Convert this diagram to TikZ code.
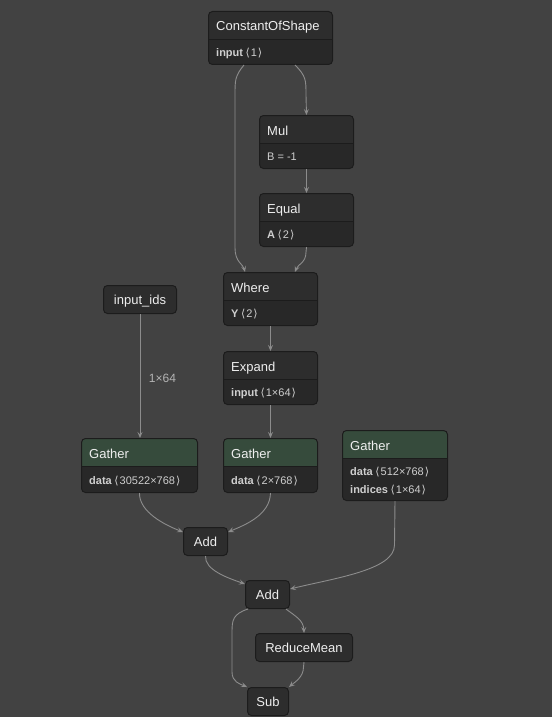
\documentclass[tikz,border=0pt]{standalone}
\usepackage{fontspec}
\setmainfont{Liberation Sans}
\newfontfamily\symfont{DejaVu Sans}
\usetikzlibrary{arrows.meta}

\definecolor{canvas}{HTML}{424242}
\definecolor{nodefill}{HTML}{2D2D2D}
\definecolor{attrfill}{HTML}{282828}
\definecolor{nodeline}{HTML}{1C1C1C}
\definecolor{gathergreen}{HTML}{364B3C}
\definecolor{wirecol}{HTML}{8C8C8C}
\definecolor{titletext}{HTML}{EEEEEE}
\definecolor{attrtext}{HTML}{CFCFCF}
\definecolor{labeltext}{HTML}{B4B4B4}

\newcommand{\shp}[1]{\hspace{2.5pt}{\symfont\char"27E8}\hspace{1pt}#1\hspace{1pt}{\symfont\char"27E9}}

\tikzset{
  opbox/.style={draw=nodeline, fill=attrfill, line width=1pt, rounded corners=4pt,
    inner sep=0pt, anchor=north west,
    path picture={\fill[#1, sharp corners] (path picture bounding box.north west) rectangle ([yshift=-28pt]path picture bounding box.north east);
      \draw[nodeline, line width=1pt, sharp corners] ([yshift=-28pt]path picture bounding box.north west) -- ([yshift=-28pt]path picture bounding box.north east);}},
  opbox/.default=nodefill,
  plainbox/.style={draw=nodeline, fill=nodefill, line width=1pt, rounded corners=4pt,
    inner sep=0pt, minimum height=28pt, text height=9.5pt, text depth=0pt,
    text=titletext, font=\fontsize{13}{15}\selectfont, anchor=north west},
  title/.style={anchor=base west, inner sep=0pt, text=titletext, font=\fontsize{13}{15}\selectfont},
  attr/.style={anchor=base west, inner sep=0pt, text=attrtext, font=\fontsize{11}{13}\selectfont},
  edgelabel/.style={inner sep=0pt, text=labeltext, font=\fontsize{12}{14}\selectfont},
  wire/.style={draw=wirecol, line width=0.9pt, -{Stealth[length=6pt,width=5pt,inset=2.5pt]}},
}

\begin{document}
\begin{tikzpicture}[x=1pt,y=-1pt]
\fill[canvas] (0,0) rectangle (552,717);
\useasboundingbox (0,0) rectangle (552,717);

% operator nodes
\node[opbox, minimum width=124pt, minimum height=53pt] (cos) at (208,11) {};
\node[title] at ([shift={(8pt,-20pt)}]cos.north west) {ConstantOfShape};
\node[attr] at ([shift={(8pt,-45.5pt)}]cos.north west) {\textbf{input}\shp{1}};

\node[opbox, minimum width=94pt, minimum height=53pt] (mul) at (259,115) {};
\node[title] at ([shift={(8pt,-20pt)}]mul.north west) {Mul};
\node[attr] at ([shift={(8pt,-45.5pt)}]mul.north west) {B = -1};

\node[opbox, minimum width=94pt, minimum height=53pt] (equal) at (259,193) {};
\node[title] at ([shift={(8pt,-20pt)}]equal.north west) {Equal};
\node[attr] at ([shift={(8pt,-45.5pt)}]equal.north west) {\textbf{A}\shp{2}};

\node[opbox, minimum width=94pt, minimum height=53pt] (where) at (223,272) {};
\node[title] at ([shift={(8pt,-20pt)}]where.north west) {Where};
\node[attr] at ([shift={(8pt,-45.5pt)}]where.north west) {\textbf{Y}\shp{2}};

\node[plainbox, minimum width=73pt] (ids) at (103,285) {input\_ids};

\node[opbox, minimum width=94pt, minimum height=53pt] (expand) at (223,351) {};
\node[title] at ([shift={(8pt,-20pt)}]expand.north west) {Expand};
\node[attr] at ([shift={(8pt,-45.5pt)}]expand.north west) {\textbf{input}\shp{1×64}};

\node[opbox=gathergreen, minimum width=116pt, minimum height=54pt] (gather1) at (81,438) {};
\node[title] at ([shift={(8pt,-20pt)}]gather1.north west) {Gather};
\node[attr] at ([shift={(8pt,-46pt)}]gather1.north west) {\textbf{data}\shp{30522×768}};

\node[opbox=gathergreen, minimum width=94pt, minimum height=54pt] (gather2) at (223,438) {};
\node[title] at ([shift={(8pt,-20pt)}]gather2.north west) {Gather};
\node[attr] at ([shift={(8pt,-46pt)}]gather2.north west) {\textbf{data}\shp{2×768}};

\node[opbox=gathergreen, minimum width=105pt, minimum height=70pt] (gather3) at (342,430) {};
\node[title] at ([shift={(8pt,-20pt)}]gather3.north west) {Gather};
\node[attr] at ([shift={(8pt,-45pt)}]gather3.north west) {\textbf{data}\shp{512×768}};
\node[attr] at ([shift={(8pt,-63pt)}]gather3.north west) {\textbf{indices}\shp{1×64}};

\node[plainbox, minimum width=44pt] (add1) at (183,527) {Add};
\node[plainbox, minimum width=44pt] (add2) at (245,580) {Add};
\node[plainbox, minimum width=97pt] (rmean) at (255,633) {ReduceMean};
\node[plainbox, minimum width=41pt] (sub) at (247,687) {Sub};

% connectors
\draw[wire] (cos.south -| 295,0) .. controls (306,76) and (306,80) .. (306,95) -- (mul.north);
\draw[wire] (cos.south -| 244,0) .. controls (235,76) and (235,80) .. (235,95) -- (235,248)
  .. controls (235,262) and (243,264) .. (where.north -| 245,0);
\draw[wire] (mul.south) -- (equal.north);
\draw[wire] (equal.south) -- (306,252) .. controls (306,263) and (298,264) .. (where.north -| 295,0);
\draw[wire] (where.south) -- (expand.north);
\draw[wire] (expand.south) -- (gather2.north);
\draw[wire] (ids.south) -- node[edgelabel, anchor=west, xshift=8.5pt, yshift=-2pt] {1×64} (ids.south |- gather1.north);

\draw[wire] (gather1.south) .. controls (139,512) and (165,525) .. ([yshift=-5pt]add1.north west);
\draw[wire] (gather2.south) .. controls (270,515) and (245,525) .. ([yshift=-5pt]add1.north east);
\draw[wire] (add1.south) .. controls (204.5,570) and (228,578) .. ([yshift=-4pt]add2.north west);
\draw[wire] (gather3.south) -- (394.5,545) .. controls (394.5,570) and (335,578) .. ([yshift=-9pt]add2.north east);
\draw[wire] ([xshift=-4pt]add2.south east) .. controls (295,616) and (303.5,620) .. (rmean.north);
\draw[wire] ([xshift=3pt]add2.south west) .. controls (233,614) and (232,620) .. (232,632) -- (232,672)
  .. controls (232,682) and (240,684) .. (sub.north west);
\draw[wire] (rmean.south) -- (303.5,667) .. controls (303.5,677) and (295,682) .. (sub.north east);
\end{tikzpicture}
\end{document}
